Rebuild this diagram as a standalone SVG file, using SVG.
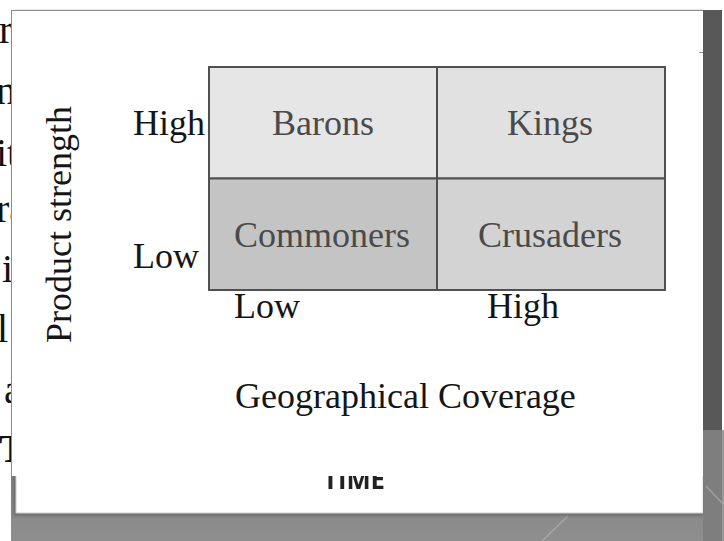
<svg xmlns="http://www.w3.org/2000/svg" width="724" height="541" viewBox="0 0 724 541">
  <defs>
    <linearGradient id="backdropFill" gradientUnits="userSpaceOnUse" x1="0" y1="10" x2="0" y2="541">
      <stop offset="0" stop-color="#545454"/>
      <stop offset="0.55" stop-color="#6a6a6a"/>
      <stop offset="1" stop-color="#8e8e8e"/>
    </linearGradient>
    <filter id="soft" x="-10%" y="-50%" width="120%" height="200%">
      <feGaussianBlur stdDeviation="0.7"/>
    </filter>
    <filter id="shade" x="-5%" y="-5%" width="110%" height="110%">
      <feGaussianBlur stdDeviation="1.5"/>
    </filter>
  </defs>
  <style>
    .page { font-family: "Liberation Serif", "Times New Roman", serif; font-size: 40px; fill: #111; }
    .cell { stroke: #505050; stroke-width: 2; }
    .cell-label { font-family: "Liberation Serif", "Times New Roman", serif; font-size: 36px; fill: #4a4a4a; text-anchor: middle; }
    .axis { font-family: "Liberation Serif", "Times New Roman", serif; font-size: 36px; fill: #151515; }
    .edge { stroke: #8c8c8c; stroke-width: 1; fill: none; }
  </style>

  <!-- page background -->
  <rect x="0" y="0" width="724" height="541" fill="#ffffff"/>

  <!-- slide backdrop with faint streaks -->
  <g id="backdrop">
    <rect x="11" y="10" width="711" height="531" fill="url(#backdropFill)"/>
    <rect x="722" y="430" width="2" height="111" fill="#9a9a9a"/>
    <line x1="568" y1="516" x2="542" y2="541" stroke="#a8a8a8" stroke-width="1.5"/>
  </g>

  <!-- slide -->
  <g id="slide">
    <rect x="13" y="12" width="690" height="504" fill="#5e5e5e" opacity="0.6" filter="url(#shade)"/>
    <rect x="16" y="10" width="687" height="503" fill="#ffffff" stroke="#d0d0d0" stroke-width="1"/>
    <text x="354" y="489" font-family="'Open Sans', 'DejaVu Sans', sans-serif" font-weight="700" font-size="26" fill="#222" text-anchor="middle" textLength="62" lengthAdjust="spacingAndGlyphs" filter="url(#soft)">TIME</text>
  </g>

  <!-- document text behind the panel -->
  <g id="page-text" class="page">
    <text x="-1" y="43">ri</text>
    <text x="-4" y="104">ne</text>
    <text x="-4" y="166">it</text>
    <text x="-4" y="222">ra</text>
    <text x="2" y="282">i</text>
    <text x="-3" y="342">l</text>
    <text x="4" y="403">a</text>
    <text x="-1" y="462" font-weight="700">T</text>
  </g>

  <!-- chart panel -->
  <g id="panel">
    <rect x="11" y="10" width="692" height="466" fill="#ffffff"/>
    <line class="edge" x1="11.5" y1="10" x2="11.5" y2="476"/>
    <line class="edge" x1="11" y1="10.5" x2="703" y2="10.5"/>
  </g>

  <!-- matrix cells -->
  <g id="barons">
    <rect class="cell" x="209" y="67" width="228" height="111.5" fill="#e6e6e6"/>
    <text class="cell-label" x="323" y="135">Barons</text>
  </g>
  <g id="kings">
    <rect class="cell" x="437" y="67" width="228" height="111.5" fill="#e1e1e1"/>
    <text class="cell-label" x="550" y="135">Kings</text>
  </g>
  <g id="commoners">
    <rect class="cell" x="209" y="178.5" width="228" height="111.5" fill="#c4c4c4"/>
    <text class="cell-label" x="322" y="247">Commoners</text>
  </g>
  <g id="crusaders">
    <rect class="cell" x="437" y="178.5" width="228" height="111.5" fill="#d3d3d3"/>
    <text class="cell-label" x="550" y="247">Crusaders</text>
  </g>

  <!-- axis labels -->
  <g id="y-axis" class="axis">
    <text x="133" y="135">High</text>
    <text x="133" y="268">Low</text>
    <text transform="translate(71 343) rotate(-90)">Product strength</text>
  </g>
  <g id="x-axis" class="axis">
    <text x="234" y="318">Low</text>
    <text x="487" y="318">High</text>
    <text x="235" y="408">Geographical Coverage</text>
  </g>

  <!-- dark strip along the slide's right side, with its streak and tick -->
  <g id="right-strip">
    <rect x="703" y="10" width="19" height="420" fill="#585858"/>
    <rect x="703" y="430" width="19" height="111" fill="#7e7e7e"/>
    <line x1="706" y1="486" x2="724" y2="505" stroke="#a0a0a0" stroke-width="1.5"/>
    <line x1="699" y1="52.5" x2="703" y2="52.5" stroke="#8c8c8c" stroke-width="1"/>
  </g>
</svg>
